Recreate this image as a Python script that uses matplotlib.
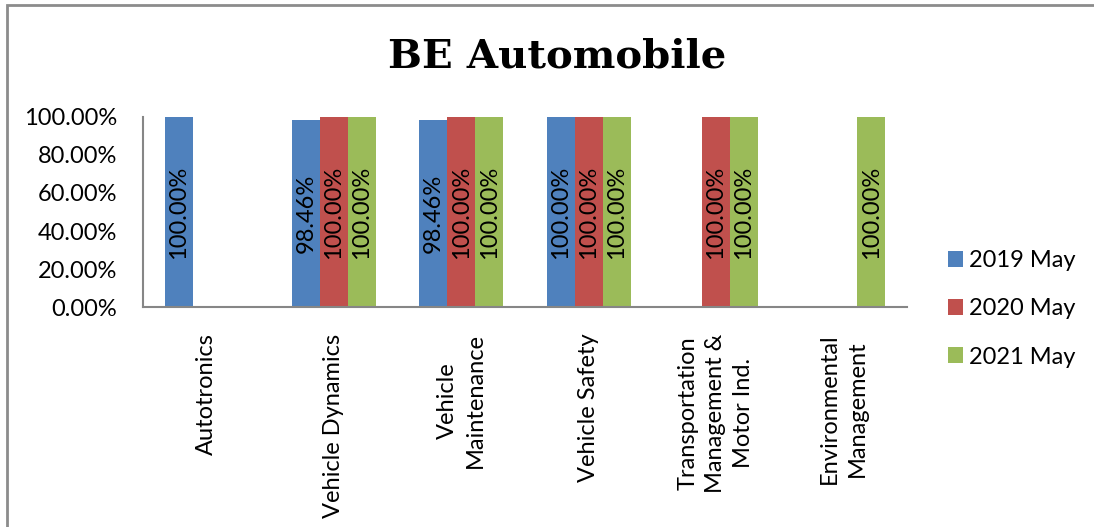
import numpy as np
import matplotlib
matplotlib.use("Agg")
import matplotlib.pyplot as plt
from matplotlib.patches import Rectangle

categories = ["Autotronics", "Vehicle Dynamics", "Vehicle\nMaintenance", "Vehicle Safety",
              "Transportation\nManagement &\nMotor Ind.", "Environmental\nManagement"]
series_names = ["2019 May", "2020 May", "2021 May"]
# None = no bar for that year
v2019 = [1.0, 0.9846, 0.9846, 1.0, None, None]
v2020 = [None, 1.0, 1.0, 1.0, 1.0, None]
v2021 = [None, 1.0, 1.0, 1.0, 1.0, 1.0]
colors = ["#4F81BD", "#C0504D", "#9BBB59"]

plt.rcParams['font.family'] = ['Lato', 'DejaVu Sans']

fig = plt.figure(figsize=(10.94, 5.27), dpi=100)
ax = fig.add_axes([143 / 1094, 1 - 307 / 527, 764 / 1094, 190 / 527])

x = np.arange(len(categories))
w = 0.22
for i, (vals, name, c) in enumerate(zip([v2019, v2020, v2021], series_names, colors)):
    xs = [xi + (i - 1) * w for xi, v in zip(x, vals) if v is not None]
    ys = [v for v in vals if v is not None]
    ax.bar(xs, ys, width=w, color=c, edgecolor="none", label=name)
    for xx, yy in zip(xs, ys):
        ax.text(xx, yy / 2, f"{yy * 100:.2f}%", rotation=90, ha="center", va="center",
                fontsize=17, color="black")

ax.set_xlim(-0.5, len(categories) - 0.5)
ax.set_ylim(0, 1)
ax.set_yticks(np.arange(0, 1.01, 0.2))
ax.set_yticklabels([f"{t * 100:.2f}%" for t in np.arange(0, 1.01, 0.2)], fontsize=17)
ax.set_xticks(x)
ax.set_xticklabels(categories, rotation=90, fontsize=17, linespacing=1.4)
ax.tick_params(axis="both", length=0)
ax.tick_params(axis="x", pad=19)
ax.tick_params(axis="y", pad=18.5)

for s in ["top", "right"]:
    ax.spines[s].set_visible(False)
for s in ["left", "bottom"]:
    ax.spines[s].set_color("#868686")
    ax.spines[s].set_linewidth(1.5)

fig.text(557 / 1094, 1 - 68 / 527, "BE Automobile", ha="center", va="baseline",
         fontsize=29, fontweight="bold", family="DejaVu Serif")

fig.legend(loc="center left", bbox_to_anchor=(948 / 1094, 1 - 309 / 527), frameon=False,
           fontsize=17, borderpad=0, borderaxespad=0,
           handlelength=0.65, handleheight=0.65, handletextpad=0.25, labelspacing=1.15)

fig.patches.append(Rectangle((7 / 1094, -0.1), 1.2, 1 - 5 / 527 + 0.1, transform=fig.transFigure,
                             fill=False, edgecolor="#8c8c8c", linewidth=2))

plt.savefig("out.png", dpi=100)
plt.close()
